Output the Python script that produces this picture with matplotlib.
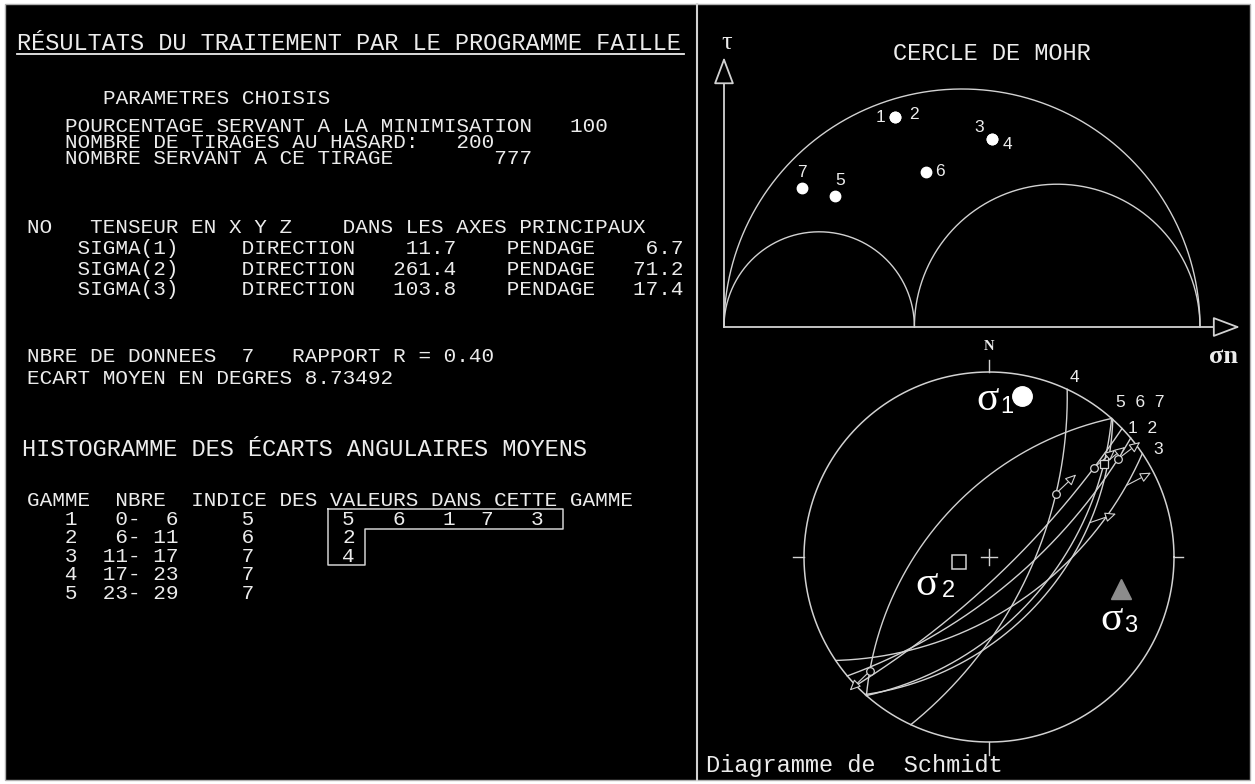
import numpy as np
import matplotlib
matplotlib.use('Agg')
import matplotlib.pyplot as plt
from matplotlib.patches import Rectangle

W, H = 1255, 784
FG = '#ececec'
LINE = '#d2d2d2'
MONO = 'Liberation Mono'
SERIF = 'Liberation Serif'
SANS = 'Liberation Sans'
BODY = 15.1      # 12.6 px per character
HEAD = 17.0      # 14.2 px per character

# ---------------- results of the FAILLE run ----------------
pourcentage = 100
n_tirages = 200
graine = 777
sigma_names = ['SIGMA(1)', 'SIGMA(2)', 'SIGMA(3)']
sigma_direction = [11.7, 261.4, 103.8]
sigma_pendage = [6.7, 71.2, 17.4]
n_donnees = 7
rapport_r = 0.40
ecart_moyen = 8.73492
gamme_bornes = [(0, 6), (6, 11), (11, 17), (17, 23), (23, 29)]
gamme_indice = [5, 6, 7, 7, 7]
gamme_valeurs = [[5, 6, 1, 7, 3], [2], [4], [], []]

# ---------------- Mohr circle (sigma3 = 0, sigma1 = 1) ----------------
mohr_num = ['1', '2', '3', '4', '5', '6', '7']
mohr_sn = [0.359, 0.359, 0.563, 0.563, 0.233, 0.424, 0.164]
mohr_tau = [0.441, 0.441, 0.395, 0.395, 0.275, 0.326, 0.292]

# ---------------- faults (strike RHR, dip, rake of striae) ----------------
fault_strike = [46, 50, 56, 25, 221.5, 41.5, 42]
fault_dip = [78, 70, 57.6, 64, 54, 54, 50]
fault_rake = [17, 8, 12, 42, 8, 16, 41]
fault_marker = ['o', 'o', None, 'o', 'o', 's', None]
schmidt_groups = ['4', '5  6  7', '1  2', '3']
schmidt_group_fault = [3, 4, 0, 2]


fig = plt.figure(figsize=(W / 100, H / 100), dpi=100, facecolor='white')

# ---- text panel (pixel coordinates) ----
ax_t = fig.add_axes([0, 0, 1, 1])
ax_t.set_xlim(0, W)
ax_t.set_ylim(H, 0)
ax_t.axis('off')
ax_t.add_patch(Rectangle((5, 4), 1245, 776, fc='black', ec='#b0b0b0', lw=1))
ax_t.plot([697, 697], [4, 780], color=LINE, lw=1.5)

CW = 12.6
X0 = 27


def col(c):
    return X0 + c * CW


def line(x, y, s, size=BODY, **kw):
    ax_t.text(x, y, s, fontsize=size, family=MONO, color=FG,
              ha='left', va='baseline', **kw)


title = 'RÉSULTATS DU TRAITEMENT PAR LE PROGRAMME FAILLE'
line(17, 50, title, HEAD)
ax_t.plot([17, 17 + len(title) * 14.2], [53.5, 53.5], color=FG, lw=1.3)

line(103, 104, 'PARAMETRES CHOISIS')
params = '\n'.join([f'POURCENTAGE SERVANT A LA MINIMISATION   {pourcentage}',
                    f'NOMBRE DE TIRAGES AU HASARD:   {n_tirages}',
                    f'NOMBRE SERVANT A CE TIRAGE        {graine}'])
# baseline of a multi-line text is that of its last line
line(65, 164, params, linespacing=0.80)

line(X0, 233, 'NO   TENSEUR EN X Y Z    DANS LES AXES PRINCIPAUX')
for i, (nm, d, p) in enumerate(zip(sigma_names, sigma_direction, sigma_pendage)):
    line(X0, 254 + i * 20.5, f'    {nm}     DIRECTION{d:8.1f}    PENDAGE{p:7.1f}')

line(X0, 362, f'NBRE DE DONNEES  {n_donnees}   RAPPORT R = {rapport_r:.2f}')
line(X0, 384, f'ECART MOYEN EN DEGRES {ecart_moyen:.5f}')

line(22, 456, 'HISTOGRAMME DES ÉCARTS ANGULAIRES MOYENS', HEAD)
line(X0, 506, 'GAMME  NBRE  INDICE DES VALEURS DANS CETTE GAMME')
row0, dy = 525, 18.4
for i, ((a, b), ind) in enumerate(zip(gamme_bornes, gamme_indice)):
    line(X0, row0 + i * dy, f'   {i + 1}  {a:2d}-{b:3d}     {ind}')

val_cols = [25, 29, 33, 36, 40]
for i, vals in enumerate(gamme_valeurs):
    for c, v in zip(val_cols, vals):
        line(col(c), row0 + i * dy, str(v))

# box around the values
nrow = sum(1 for v in gamme_valeurs if v)
bl, br, bs = col(23.9), col(42.5), col(26.8)
bt = row0 - 16
b1 = row0 + 3.5
bb = row0 + (nrow - 1) * dy + 3.5
ax_t.plot([bl, br, br, bs, bs, bl, bl], [bt, bt, b1, b1, bb, bb, bt],
          color=LINE, lw=1.1)

# ---- Mohr circle ----
PX = 476.0
xm0, ym0 = 724, 327
ax_m = fig.add_axes([715 / W, 1 - 340 / H, (1250 - 715) / W, (340 - 35) / H])
ax_m.set_xlim((715 - xm0) / PX, (1250 - xm0) / PX)
ax_m.set_ylim((ym0 - 340) / PX, (ym0 - 35) / PX)
ax_m.axis('off')
ax_m.patch.set_alpha(0)

s3, s2, s1 = 0.0, rapport_r, 1.0
th = np.linspace(0, np.pi, 300)
for a, b in [(s3, s1), (s3, s2), (s2, s1)]:
    c, r = (a + b) / 2, (b - a) / 2
    ax_m.plot(c + r * np.cos(th), r * np.sin(th), color=LINE, lw=1)

arr = dict(arrowstyle='-|>,head_length=0.85,head_width=0.32', mutation_scale=20,
           fc='black', ec=LINE, lw=1.3, shrinkA=0, shrinkB=0)
ax_m.annotate('', xy=(1.084, 0), xytext=(0, 0), arrowprops=arr)
ax_m.annotate('', xy=(0, 0.567), xytext=(0, 0), arrowprops=arr)

ax_m.plot(mohr_sn, mohr_tau, 'o', color='white', ms=7.5)
mohr_off = [(-10, 0), (14, 2), (-9, 8), (11, -4), (4, 11), (10, 0), (0, 11.5)]
for n, x, y, off in zip(mohr_num, mohr_sn, mohr_tau, mohr_off):
    ax_m.annotate(n, (x, y), xytext=off, textcoords='offset points',
                  ha='center', va='center', color=FG, fontsize=12.5, family=SANS)

ax_t.text(727, 49, 'τ', fontsize=19, family=SERIF, color=FG, ha='center', va='baseline')
ax_t.text(893, 60, 'CERCLE DE MOHR', fontsize=HEAD, family=MONO, color=FG,
          ha='left', va='baseline')
ax_t.text(1223, 363, 'σn', fontsize=19, family=SERIF, fontweight='bold', color=FG,
          ha='center', va='baseline')

# ---- Schmidt stereonet (Wulff projection, lower hemisphere) ----
R = 185.0
cx, cy = 989, 557
ax_s = fig.add_axes([(cx - 200) / W, 1 - (cy + 200) / H, 400 / W, 400 / H])
lim = 200 / R
ax_s.set_xlim(-lim, lim)
ax_s.set_ylim(-lim, lim)
ax_s.axis('off')
ax_s.patch.set_alpha(0)


def proj(trend, plunge):
    r = np.tan(np.radians(90 - np.asarray(plunge)) / 2)
    t = np.radians(trend)
    return r * np.sin(t), r * np.cos(t)


def on_plane(strike, dip, rake):
    d, r = np.radians(dip), np.radians(rake)
    plunge = np.degrees(np.arcsin(np.sin(d) * np.sin(r)))
    trend = strike + np.degrees(np.arctan2(np.cos(d) * np.sin(r), np.cos(r)))
    return trend, plunge


t = np.linspace(0, 2 * np.pi, 400)
ax_s.plot(np.cos(t), np.sin(t), color=LINE, lw=1.1)
for (xa, ya), (xb, yb) in [((0, 1), (0, 1.065)), ((0, -1), (0, -1.07)),
                           ((-1, 0), (-1.06, 0)), ((1, 0), (1.05, 0))]:
    ax_s.plot([xa, xb], [ya, yb], color=LINE, lw=1, clip_on=False)
ax_s.plot([-0.045, 0.045], [0, 0], color=LINE, lw=1)
ax_s.plot([0, 0], [-0.045, 0.045], color=LINE, lw=1)

rk = np.linspace(0, 180, 300)
for s, d, rake, mk in zip(fault_strike, fault_dip, fault_rake, fault_marker):
    tr, pl = on_plane(s, d, rk)
    ax_s.plot(*proj(tr, pl), color=LINE, lw=1)
    px, py = proj(*on_plane(s, d, rake))
    rr = np.hypot(px, py)
    tip = (px * (1 + 0.15 / rr), py * (1 + 0.15 / rr))
    ax_s.annotate('', xy=tip, xytext=(px, py), annotation_clip=False,
                  arrowprops=dict(arrowstyle='-|>,head_length=0.55,head_width=0.25',
                                  mutation_scale=12, fc='black', ec=LINE, lw=0.8,
                                  shrinkA=0, shrinkB=0))
    if mk:
        ax_s.plot(px, py, mk, ms=5.5, mfc='black', mec=LINE, mew=0.9, zorder=4)

lab_off = [(2, 3, 'left', 'bottom'), (3, 6, 'left', 'bottom'),
           (4, 0, 'left', 'center'), (8, 3, 'left', 'center')]
for g, fi, (ox, oy, ha, va) in zip(schmidt_groups, schmidt_group_fault, lab_off):
    az = np.radians(fault_strike[fi] % 180)
    ax_s.annotate(g, (np.sin(az), np.cos(az)), xytext=(ox, oy), textcoords='offset points',
                  ha=ha, va=va, color=FG, fontsize=12.5, family=SANS)

ax_s.text(0, 1.105, 'N', fontsize=10.5, family=SERIF, fontweight='bold', color=FG,
          ha='center', va='bottom')

# principal stresses
sig_xy = [proj(tr, pl) for tr, pl in zip(sigma_direction, sigma_pendage)]
ax_s.plot(*sig_xy[0], 'o', ms=14, color='white', zorder=5)
ax_s.plot(*sig_xy[1], 's', ms=10, mfc='none', mec=LINE, mew=1.1, zorder=5)
ax_s.plot(*sig_xy[2], '^', ms=15, color='#8c8c8c', zorder=5)
sig_lab = [((-25, -10), (-11, -12.5)), ((-23, -24), (-7.5, -25.5)), ((-7, -29.5), (7, -31))]
for k, ((x, y), (o1, o2)) in enumerate(zip(sig_xy, sig_lab)):
    ax_s.annotate('σ', (x, y), xytext=o1, textcoords='offset points', ha='center',
                  va='baseline', color='white', fontsize=30, family=SERIF)
    ax_s.annotate(str(k + 1), (x, y), xytext=o2, textcoords='offset points', ha='center',
                  va='baseline', color='white', fontsize=17, family=SANS)

ax_t.text(706, 772, 'Diagramme de  Schmidt', fontsize=HEAD, family=MONO, color=FG,
          ha='left', va='baseline')

fig.savefig('out.png', dpi=100, facecolor='white')
